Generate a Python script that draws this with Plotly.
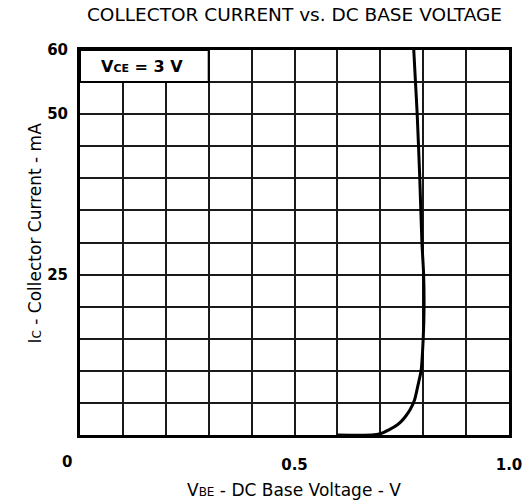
import plotly.graph_objects as go

# Data
vbe = [0.60, 0.68, 0.70, 0.72, 0.74, 0.75, 0.76, 0.77, 0.78, 0.787, 0.795, 0.800, 0.802, 0.801, 0.797, 0.792, 0.786, 0.782, 0.778]
ic = [0, 0, 0.2, 0.8, 1.6, 2.2, 3.0, 4.0, 5.5, 7.5, 10, 15, 20, 25, 30, 40, 50, 55, 60]

x_tickvals = [round(i * 0.1, 1) for i in range(11)]
x_ticktext = ["", "", "", "", "", "0.5", "", "", "", "", "1.0"]
y_tickvals = [i * 5 for i in range(13)]
y_ticktext = ["", "", "", "", "", "25", "", "", "", "", "50", "", "60"]

FONT = "DejaVu Sans, Liberation Sans, Arial, sans-serif"

fig = go.Figure()
fig.add_trace(go.Scatter(
    x=vbe, y=ic, mode="lines",
    line=dict(color="black", width=3, shape="spline", smoothing=0.6),
    showlegend=False, hoverinfo="skip",
))

axis_common = dict(
    showline=True, linecolor="black", linewidth=3, mirror=True,
    showgrid=True, gridcolor="#1a1a1a", gridwidth=1.6,
    zeroline=False, ticks="", fixedrange=True, automargin=False,
    tickfont=dict(family=FONT, size=15, color="black", weight="bold"),
)

fig.update_xaxes(range=[0, 1], tickmode="array", tickvals=x_tickvals,
                 ticktext=x_ticktext, ticklabelstandoff=14, **axis_common)
fig.update_yaxes(range=[0, 60], tickmode="array", tickvals=y_tickvals,
                 ticktext=y_ticktext, ticklabelstandoff=6, **axis_common)

# axis titles
fig.add_annotation(x=0.5, y=0, xref="paper", yref="paper", showarrow=False,
                   xshift=-1, yshift=-55, yanchor="middle",
                   text="V<span style='font-size:12px'>BE</span> - DC Base Voltage - V",
                   font=dict(family=FONT, size=17, color="black"))
fig.add_annotation(x=0, y=0.5, xref="paper", yref="paper", showarrow=False,
                   xshift=-46, yshift=9, xanchor="center", textangle=-90,
                   text="I<span style='font-size:12px'>C</span> - Collector Current - mA",
                   font=dict(family=FONT, size=17, color="black"))

# label box in the top-left corner
fig.add_shape(type="rect", x0=0, x1=0.3, y0=55, y1=60, xref="x", yref="y",
              fillcolor="white", line=dict(color="black", width=2), layer="above")
fig.add_annotation(x=0.145, y=57.5, xref="x", yref="y", showarrow=False,
                   text="V<span style='font-size:11px'>CE</span> = 3 V",
                   font=dict(family=FONT, size=16, color="black", weight="bold"))
# corner "0" label of the x axis
fig.add_annotation(x=0, y=0, xref="x", yref="y", showarrow=False,
                   text="0", xshift=-13, yshift=-27,
                   font=dict(family=FONT, size=15, color="black", weight="bold"))

fig.update_layout(
    width=525, height=502,
    margin=dict(l=80, r=16, t=50, b=67),
    paper_bgcolor="white", plot_bgcolor="white",
    title=dict(text="COLLECTOR CURRENT vs. DC BASE VOLTAGE", x=0.5, xref="paper",
               y=0.972, yref="container", yanchor="middle", xanchor="center",
               font=dict(family=FONT, size=18.5, color="black")),
)

fig.write_html("out.html", config={"displayModeBar": False},
               post_script="document.body.style.margin='0px';")
